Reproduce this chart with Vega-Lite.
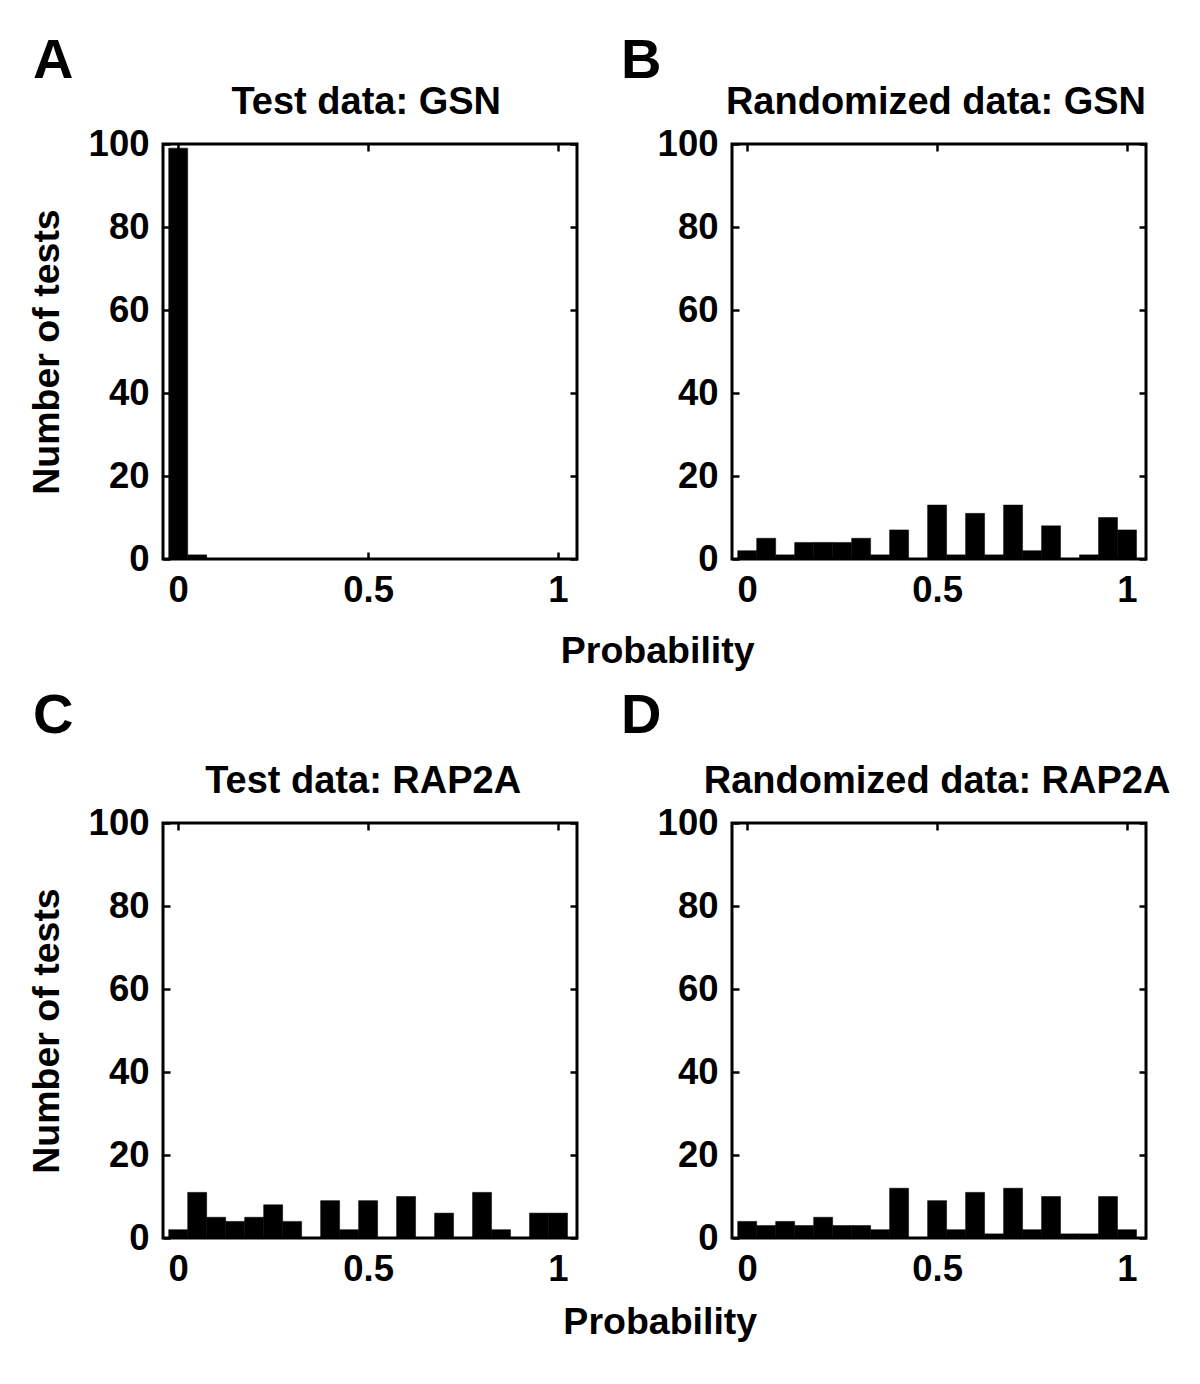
{
  "$schema": "https://vega.github.io/schema/vega-lite/v6.json",
  "background": "white",
  "padding": {"left": 26, "top": 30, "right": 5, "bottom": 5},
  "datasets": {
    "hist": [
      {"panel":"A","lo":-0.025,"hi":0.025,"n":99},{"panel":"A","lo":0.025,"hi":0.075,"n":1},{"panel":"A","lo":0.075,"hi":0.125,"n":0},{"panel":"A","lo":0.125,"hi":0.175,"n":0},{"panel":"A","lo":0.175,"hi":0.225,"n":0},{"panel":"A","lo":0.225,"hi":0.275,"n":0},{"panel":"A","lo":0.275,"hi":0.325,"n":0},{"panel":"A","lo":0.325,"hi":0.375,"n":0},{"panel":"A","lo":0.375,"hi":0.425,"n":0},{"panel":"A","lo":0.425,"hi":0.475,"n":0},{"panel":"A","lo":0.475,"hi":0.525,"n":0},{"panel":"A","lo":0.525,"hi":0.575,"n":0},{"panel":"A","lo":0.575,"hi":0.625,"n":0},{"panel":"A","lo":0.625,"hi":0.675,"n":0},{"panel":"A","lo":0.675,"hi":0.725,"n":0},{"panel":"A","lo":0.725,"hi":0.775,"n":0},{"panel":"A","lo":0.775,"hi":0.825,"n":0},{"panel":"A","lo":0.825,"hi":0.875,"n":0},{"panel":"A","lo":0.875,"hi":0.925,"n":0},{"panel":"A","lo":0.925,"hi":0.975,"n":0},{"panel":"A","lo":0.975,"hi":1.025,"n":0},
      {"panel":"B","lo":-0.025,"hi":0.025,"n":2},{"panel":"B","lo":0.025,"hi":0.075,"n":5},{"panel":"B","lo":0.075,"hi":0.125,"n":1},{"panel":"B","lo":0.125,"hi":0.175,"n":4},{"panel":"B","lo":0.175,"hi":0.225,"n":4},{"panel":"B","lo":0.225,"hi":0.275,"n":4},{"panel":"B","lo":0.275,"hi":0.325,"n":5},{"panel":"B","lo":0.325,"hi":0.375,"n":1},{"panel":"B","lo":0.375,"hi":0.425,"n":7},{"panel":"B","lo":0.425,"hi":0.475,"n":0},{"panel":"B","lo":0.475,"hi":0.525,"n":13},{"panel":"B","lo":0.525,"hi":0.575,"n":1},{"panel":"B","lo":0.575,"hi":0.625,"n":11},{"panel":"B","lo":0.625,"hi":0.675,"n":1},{"panel":"B","lo":0.675,"hi":0.725,"n":13},{"panel":"B","lo":0.725,"hi":0.775,"n":2},{"panel":"B","lo":0.775,"hi":0.825,"n":8},{"panel":"B","lo":0.825,"hi":0.875,"n":0},{"panel":"B","lo":0.875,"hi":0.925,"n":1},{"panel":"B","lo":0.925,"hi":0.975,"n":10},{"panel":"B","lo":0.975,"hi":1.025,"n":7},
      {"panel":"C","lo":-0.025,"hi":0.025,"n":2},{"panel":"C","lo":0.025,"hi":0.075,"n":11},{"panel":"C","lo":0.075,"hi":0.125,"n":5},{"panel":"C","lo":0.125,"hi":0.175,"n":4},{"panel":"C","lo":0.175,"hi":0.225,"n":5},{"panel":"C","lo":0.225,"hi":0.275,"n":8},{"panel":"C","lo":0.275,"hi":0.325,"n":4},{"panel":"C","lo":0.325,"hi":0.375,"n":0},{"panel":"C","lo":0.375,"hi":0.425,"n":9},{"panel":"C","lo":0.425,"hi":0.475,"n":2},{"panel":"C","lo":0.475,"hi":0.525,"n":9},{"panel":"C","lo":0.525,"hi":0.575,"n":0},{"panel":"C","lo":0.575,"hi":0.625,"n":10},{"panel":"C","lo":0.625,"hi":0.675,"n":0},{"panel":"C","lo":0.675,"hi":0.725,"n":6},{"panel":"C","lo":0.725,"hi":0.775,"n":0},{"panel":"C","lo":0.775,"hi":0.825,"n":11},{"panel":"C","lo":0.825,"hi":0.875,"n":2},{"panel":"C","lo":0.875,"hi":0.925,"n":0},{"panel":"C","lo":0.925,"hi":0.975,"n":6},{"panel":"C","lo":0.975,"hi":1.025,"n":6},
      {"panel":"D","lo":-0.025,"hi":0.025,"n":4},{"panel":"D","lo":0.025,"hi":0.075,"n":3},{"panel":"D","lo":0.075,"hi":0.125,"n":4},{"panel":"D","lo":0.125,"hi":0.175,"n":3},{"panel":"D","lo":0.175,"hi":0.225,"n":5},{"panel":"D","lo":0.225,"hi":0.275,"n":3},{"panel":"D","lo":0.275,"hi":0.325,"n":3},{"panel":"D","lo":0.325,"hi":0.375,"n":2},{"panel":"D","lo":0.375,"hi":0.425,"n":12},{"panel":"D","lo":0.425,"hi":0.475,"n":0},{"panel":"D","lo":0.475,"hi":0.525,"n":9},{"panel":"D","lo":0.525,"hi":0.575,"n":2},{"panel":"D","lo":0.575,"hi":0.625,"n":11},{"panel":"D","lo":0.625,"hi":0.675,"n":1},{"panel":"D","lo":0.675,"hi":0.725,"n":12},{"panel":"D","lo":0.725,"hi":0.775,"n":2},{"panel":"D","lo":0.775,"hi":0.825,"n":10},{"panel":"D","lo":0.825,"hi":0.875,"n":1},{"panel":"D","lo":0.875,"hi":0.925,"n":1},{"panel":"D","lo":0.925,"hi":0.975,"n":10},{"panel":"D","lo":0.975,"hi":1.025,"n":2}
    ]
  },
  "spacing": 14,
  "vconcat": [
    {
      "spacing": 39,
      "title": {"text": "Probability", "orient": "bottom", "anchor": "middle", "offset": 23, "dx": 70, "fontSize": 37.5},
      "hconcat": [
        {
          "width": 414, "height": 415,
          "title": {"text": "A", "anchor": "start", "frame": "bounds", "fontSize": 56, "baseline": "alphabetic", "offset": -50, "dx": 5},
          "layer": [
            {"data": {"name": "hist"}, "transform": [{"filter": "datum.panel === 'A'"}],
             "mark": {"type": "bar", "color": "black", "stroke": "black", "strokeWidth": 0.5},
             "encoding": {
               "x": {"field": "lo", "type": "quantitative", "scale": {"domain": [-0.04, 1.05], "nice": false, "zero": false}, "axis": {"orient": "bottom", "values": [0, 0.5, 1], "format": "~g", "title": null}},
               "x2": {"field": "hi"},
               "y": {"field": "n", "type": "quantitative", "scale": {"domain": [0, 100], "nice": false}, "axis": {"orient": "left", "values": [0, 20, 40, 60, 80, 100], "title": "Number of tests"}},
               "y2": {"datum": 0}
             }},
            {"data": {"values": [{"name": "Test data: GSN"}]},
             "mark": {"type": "text", "fontSize": 38, "fontWeight": "bold", "font": "Liberation Sans", "color": "black", "align": "center", "baseline": "middle"},
             "encoding": {
               "text": {"field": "name"},
               "x": {"datum": 0.495, "type": "quantitative", "scale": {"domain": [-0.04, 1.05], "nice": false, "zero": false}, "axis": {"orient": "top", "values": [0, 0.5, 1], "labels": false, "title": null}},
               "y": {"datum": 110, "type": "quantitative", "scale": {"domain": [0, 100], "nice": false}, "axis": {"orient": "right", "values": [0, 20, 40, 60, 80, 100], "labels": false, "title": null}}
             }}
          ],
          "resolve": {"axis": {"x": "independent", "y": "independent"}}
        },
        {
          "width": 414, "height": 415,
          "title": {"text": "B", "anchor": "start", "frame": "bounds", "fontSize": 56, "baseline": "alphabetic", "offset": -50, "dx": -36},
          "layer": [
            {"data": {"name": "hist"}, "transform": [{"filter": "datum.panel === 'B'"}],
             "mark": {"type": "bar", "color": "black", "stroke": "black", "strokeWidth": 0.5},
             "encoding": {
               "x": {"field": "lo", "type": "quantitative", "scale": {"domain": [-0.04, 1.05], "nice": false, "zero": false}, "axis": {"orient": "bottom", "values": [0, 0.5, 1], "format": "~g", "title": null}},
               "x2": {"field": "hi"},
               "y": {"field": "n", "type": "quantitative", "scale": {"domain": [0, 100], "nice": false}, "axis": {"orient": "left", "values": [0, 20, 40, 60, 80, 100], "title": null}},
               "y2": {"datum": 0}
             }},
            {"data": {"values": [{"name": "Randomized data: GSN"}]},
             "mark": {"type": "text", "fontSize": 38, "fontWeight": "bold", "font": "Liberation Sans", "color": "black", "align": "center", "baseline": "middle"},
             "encoding": {
               "text": {"field": "name"},
               "x": {"datum": 0.497, "type": "quantitative", "scale": {"domain": [-0.04, 1.05], "nice": false, "zero": false}, "axis": {"orient": "top", "values": [0, 0.5, 1], "labels": false, "title": null}},
               "y": {"datum": 110, "type": "quantitative", "scale": {"domain": [0, 100], "nice": false}, "axis": {"orient": "right", "values": [0, 20, 40, 60, 80, 100], "labels": false, "title": null}}
             }}
          ],
          "resolve": {"axis": {"x": "independent", "y": "independent"}}
        }
      ]
    },
    {
      "spacing": 39,
      "title": {"text": "Probability", "orient": "bottom", "anchor": "middle", "offset": 15, "dx": 61, "fontSize": 37.5},
      "hconcat": [
        {
          "width": 414, "height": 415,
          "title": {"text": "C", "anchor": "start", "frame": "bounds", "fontSize": 56, "baseline": "alphabetic", "offset": -26, "dx": 5},
          "layer": [
            {"data": {"name": "hist"}, "transform": [{"filter": "datum.panel === 'C'"}],
             "mark": {"type": "bar", "color": "black", "stroke": "black", "strokeWidth": 0.5},
             "encoding": {
               "x": {"field": "lo", "type": "quantitative", "scale": {"domain": [-0.04, 1.05], "nice": false, "zero": false}, "axis": {"orient": "bottom", "values": [0, 0.5, 1], "format": "~g", "title": null}},
               "x2": {"field": "hi"},
               "y": {"field": "n", "type": "quantitative", "scale": {"domain": [0, 100], "nice": false}, "axis": {"orient": "left", "values": [0, 20, 40, 60, 80, 100], "title": "Number of tests"}},
               "y2": {"datum": 0}
             }},
            {"data": {"values": [{"name": "Test data: RAP2A"}]},
             "mark": {"type": "text", "fontSize": 38, "fontWeight": "bold", "font": "Liberation Sans", "color": "black", "align": "center", "baseline": "middle"},
             "encoding": {
               "text": {"field": "name"},
               "x": {"datum": 0.487, "type": "quantitative", "scale": {"domain": [-0.04, 1.05], "nice": false, "zero": false}, "axis": {"orient": "top", "values": [0, 0.5, 1], "labels": false, "title": null}},
               "y": {"datum": 110, "type": "quantitative", "scale": {"domain": [0, 100], "nice": false}, "axis": {"orient": "right", "values": [0, 20, 40, 60, 80, 100], "labels": false, "title": null}}
             }}
          ],
          "resolve": {"axis": {"x": "independent", "y": "independent"}}
        },
        {
          "width": 414, "height": 415,
          "title": {"text": "D", "anchor": "start", "frame": "bounds", "fontSize": 56, "baseline": "alphabetic", "offset": -26, "dx": -36},
          "layer": [
            {"data": {"name": "hist"}, "transform": [{"filter": "datum.panel === 'D'"}],
             "mark": {"type": "bar", "color": "black", "stroke": "black", "strokeWidth": 0.5},
             "encoding": {
               "x": {"field": "lo", "type": "quantitative", "scale": {"domain": [-0.04, 1.05], "nice": false, "zero": false}, "axis": {"orient": "bottom", "values": [0, 0.5, 1], "format": "~g", "title": null}},
               "x2": {"field": "hi"},
               "y": {"field": "n", "type": "quantitative", "scale": {"domain": [0, 100], "nice": false}, "axis": {"orient": "left", "values": [0, 20, 40, 60, 80, 100], "title": null}},
               "y2": {"datum": 0}
             }},
            {"data": {"values": [{"name": "Randomized data: RAP2A"}]},
             "mark": {"type": "text", "fontSize": 38, "fontWeight": "bold", "font": "Liberation Sans", "color": "black", "align": "center", "baseline": "middle"},
             "encoding": {
               "text": {"field": "name"},
               "x": {"datum": 0.5, "type": "quantitative", "scale": {"domain": [-0.04, 1.05], "nice": false, "zero": false}, "axis": {"orient": "top", "values": [0, 0.5, 1], "labels": false, "title": null}},
               "y": {"datum": 110, "type": "quantitative", "scale": {"domain": [0, 100], "nice": false}, "axis": {"orient": "right", "values": [0, 20, 40, 60, 80, 100], "labels": false, "title": null}}
             }}
          ],
          "resolve": {"axis": {"x": "independent", "y": "independent"}}
        }
      ]
    }
  ],
  "config": {
    "view": {"stroke": "black", "strokeWidth": 3},
    "axis": {"domain": false, "grid": false, "tickColor": "black", "tickWidth": 2.5, "tickSize": -7, "labelFont": "Liberation Sans", "labelFontSize": 36.5, "labelFontWeight": "bold", "labelColor": "black", "titleFont": "Liberation Sans", "titleFontSize": 37.5, "titleFontWeight": "bold", "titleColor": "black", "titlePadding": 22},
    "axisBottom": {"labelPadding": 20},
    "axisLeft": {"labelPadding": 21},
    "title": {"font": "Liberation Sans", "fontSize": 38, "fontWeight": "bold", "color": "black"}
  }
}
